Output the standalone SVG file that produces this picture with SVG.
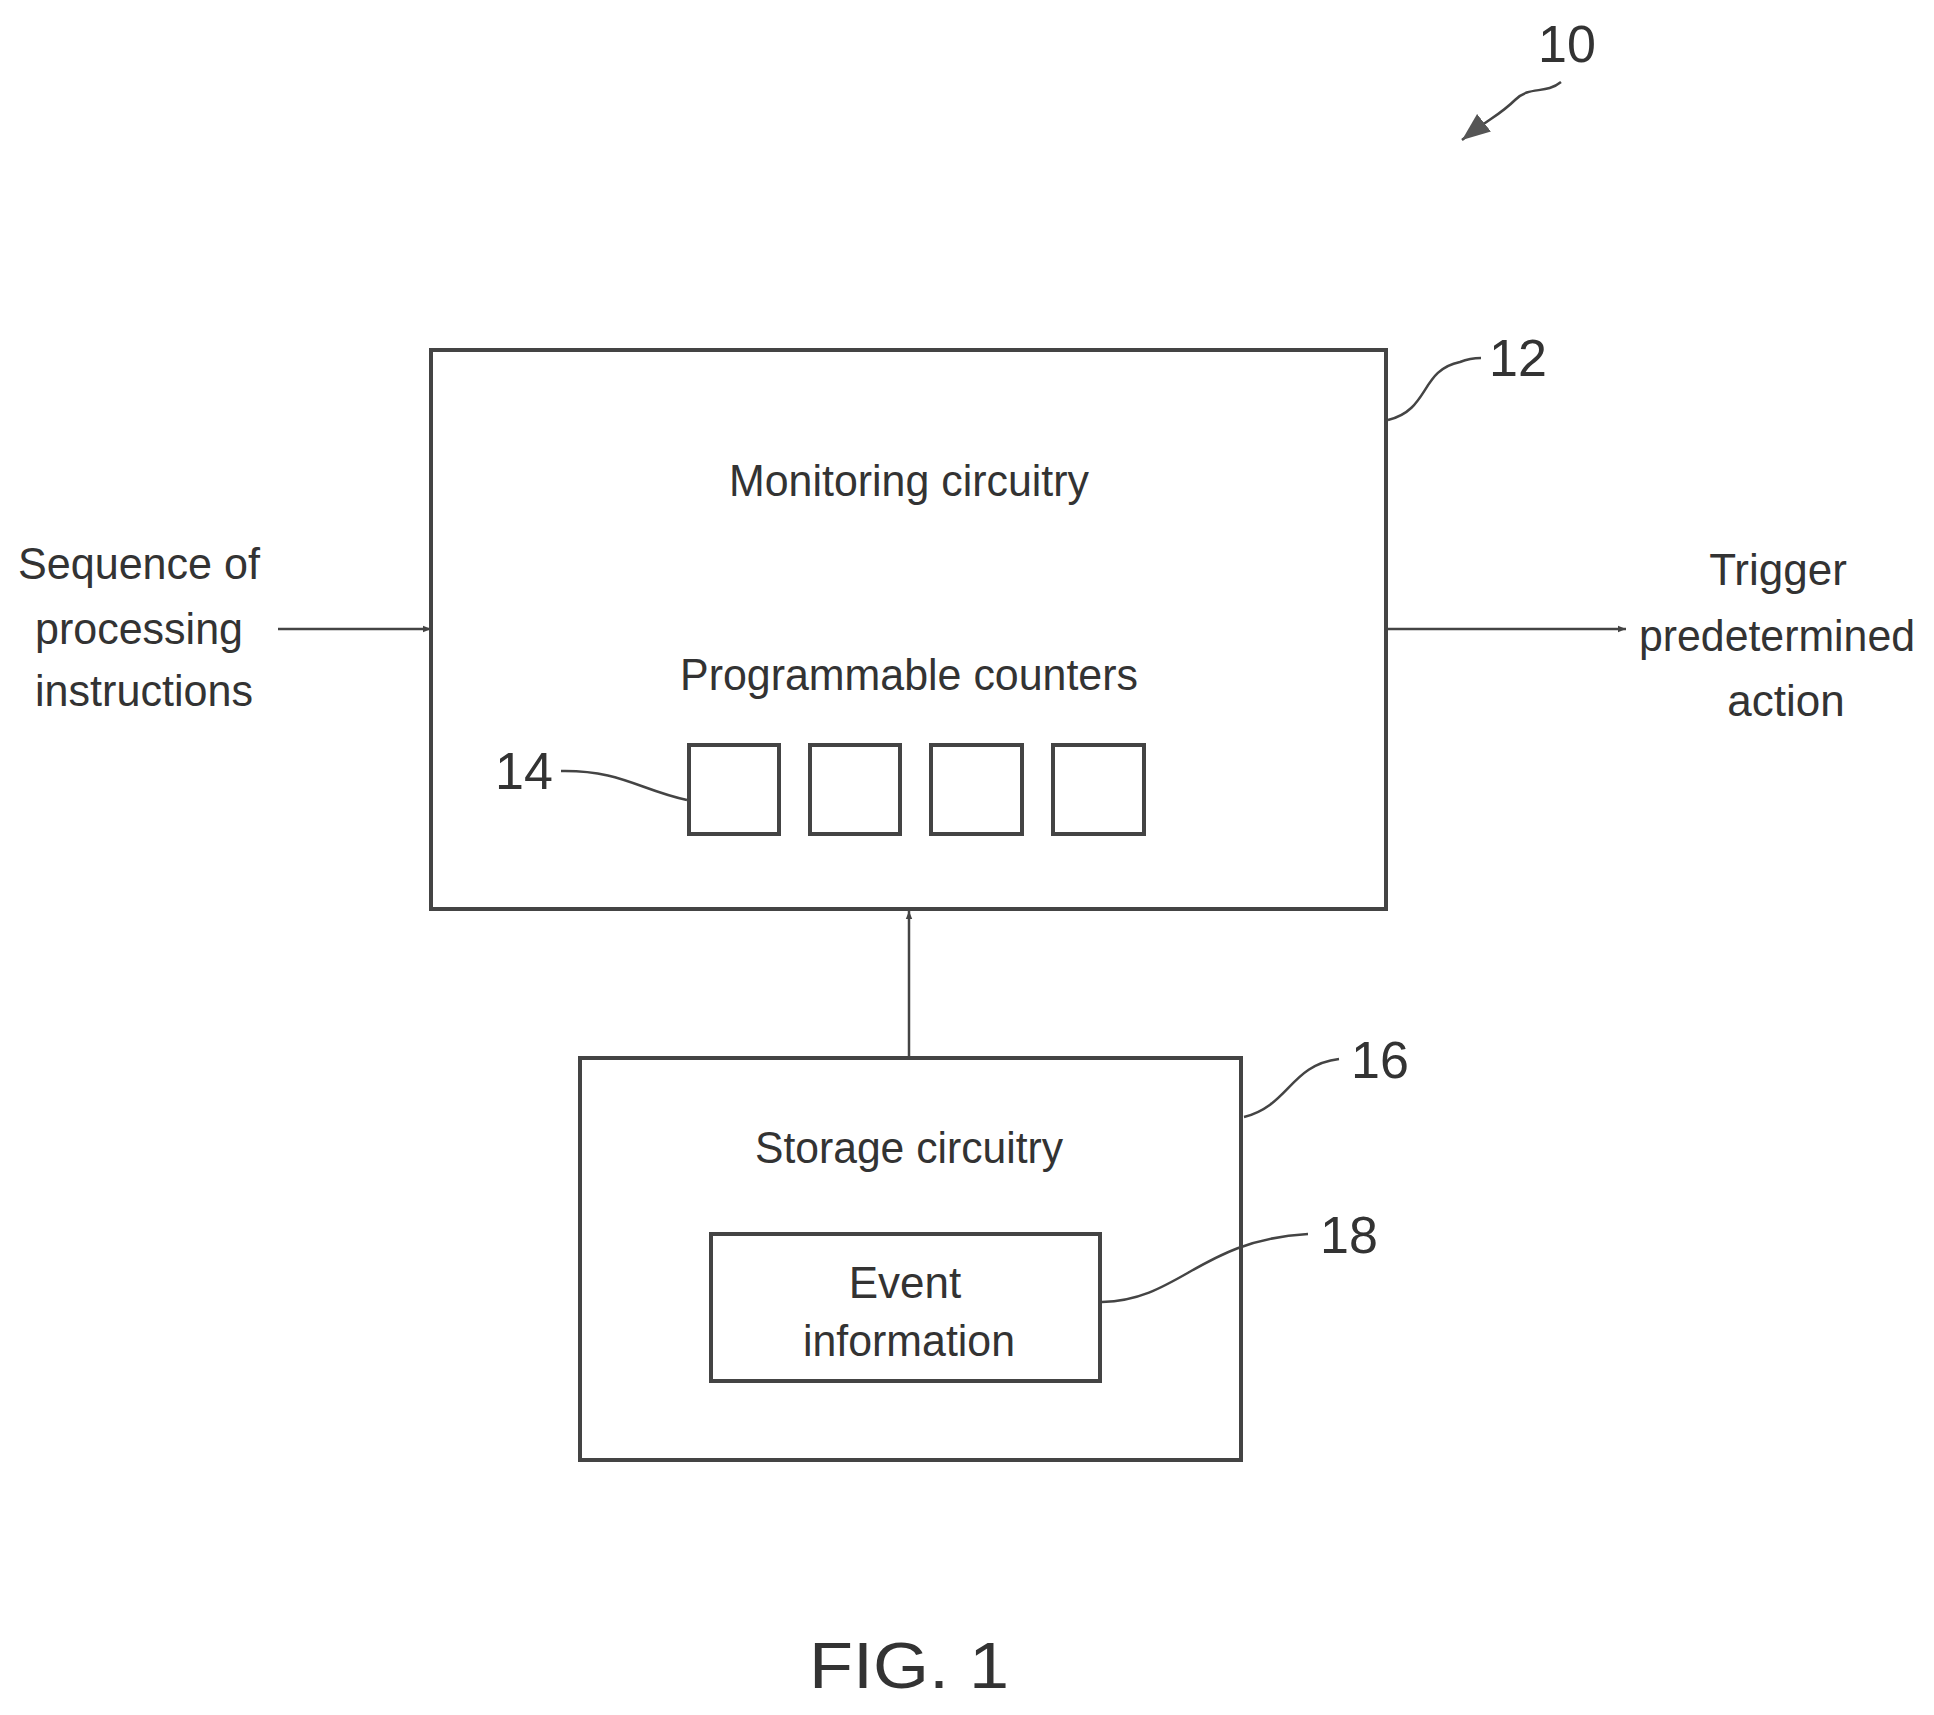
<svg xmlns="http://www.w3.org/2000/svg" width="1934" height="1715" viewBox="0 0 1934 1715">
<defs>
<marker id="ah" viewBox="0 0 10 10" refX="10" refY="5" markerWidth="8" markerHeight="8" markerUnits="userSpaceOnUse" orient="auto"><path d="M0,1 L10,5 L0,9 z" fill="#444"/></marker>
<marker id="ahb" viewBox="0 0 10 10" refX="10" refY="5" markerWidth="28" markerHeight="28" markerUnits="userSpaceOnUse" orient="auto"><path d="M0,1 L10,5 L0,9 z" fill="#555"/></marker>
</defs>
<style>
.b{fill:none;stroke:#444;stroke-width:4}
.l{fill:none;stroke:#444;stroke-width:2.5}
.t{font-family:"Liberation Sans",Arial,sans-serif;font-size:44px;fill:#333;text-anchor:middle}
.n{font-family:"Liberation Sans",Arial,sans-serif;font-size:52px;fill:#333;text-anchor:middle}
</style>
<rect width="1934" height="1715" fill="#fff"/>
<g id="ref10"><text class="n" x="1567" y="62">10</text><path class="l" d="M1561,82 C1545,95 1530,85 1515,100 C1500,115 1490,118 1462,140" marker-end="url(#ahb)"/></g>
<g id="monitoring">
<rect class="b" x="431" y="350" width="955" height="559"/>
<text class="t" x="909" y="496" textLength="360" lengthAdjust="spacingAndGlyphs">Monitoring circuitry</text>
<text class="t" x="909" y="690" textLength="458" lengthAdjust="spacingAndGlyphs">Programmable counters</text>
<rect class="b" x="689" y="745" width="90" height="89"/>
<rect class="b" x="810" y="745" width="90" height="89"/>
<rect class="b" x="931" y="745" width="91" height="89"/>
<rect class="b" x="1053" y="745" width="91" height="89"/>
<text class="n" x="524" y="789">14</text>
<text class="n" x="1518" y="376">12</text>
</g>
<g id="storage">
<rect class="b" x="580" y="1058" width="661" height="402"/>
<text class="t" x="909" y="1163" textLength="308" lengthAdjust="spacingAndGlyphs">Storage circuitry</text>
<text class="n" x="1380" y="1078">16</text>
</g>
<g id="event">
<rect class="b" x="711" y="1234" width="389" height="147"/>
<text class="t" x="905" y="1298">Event</text>
<text class="t" x="909" y="1356" textLength="212" lengthAdjust="spacingAndGlyphs">information</text>
<text class="n" x="1349" y="1253">18</text>
</g>
<g id="labels">
<text class="t" x="139" y="579" textLength="242" lengthAdjust="spacingAndGlyphs">Sequence of</text>
<text class="t" x="139" y="644" textLength="208" lengthAdjust="spacingAndGlyphs">processing</text>
<text class="t" x="144" y="706" textLength="218" lengthAdjust="spacingAndGlyphs">instructions</text>
<text class="t" x="1778" y="585">Trigger</text>
<text class="t" x="1777" y="651" textLength="276" lengthAdjust="spacingAndGlyphs">predetermined</text>
<text class="t" x="1786" y="716">action</text>
<text class="n" x="909" y="1688" style="font-size:64px" textLength="200" lengthAdjust="spacingAndGlyphs">FIG. 1</text>
</g>
<g id="connectors">
<line class="l" x1="278" y1="629" x2="431" y2="629" marker-end="url(#ah)"/>
<line class="l" x1="1386" y1="629" x2="1626" y2="629" marker-end="url(#ah)"/>
<line class="l" x1="909" y1="1058" x2="909" y2="911" marker-end="url(#ah)"/>
<path class="l" d="M561,771 C620,770 640,790 687,800"/>
<path class="l" d="M1388,420 C1430,410 1420,370 1460,362 C1470,358 1475,358 1481,358"/>
<path class="l" d="M1244,1117 C1290,1105 1290,1065 1339,1059"/>
<path class="l" d="M1102,1302 C1180,1300 1200,1240 1308,1234"/>
</g>
</svg>
